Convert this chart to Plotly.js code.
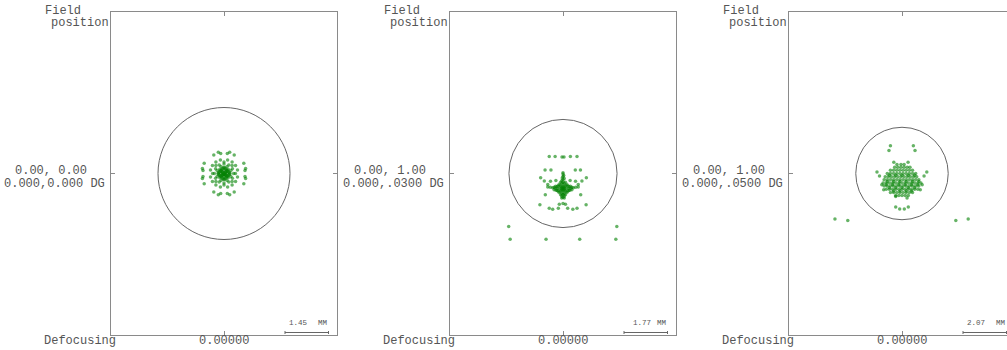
<!DOCTYPE html>
<html>
<head>
<meta charset="utf-8">
<script src="https://cdn.plot.ly/plotly-3.0.1.min.js"></script>
<style>html,body{margin:0;padding:0;background:#fff;}#chart{width:1007px;height:350px;}</style>
</head>
<body>
<div id="chart"></div>
<script>
// ---- data ----
const fieldLine1 = ["0.00, 0.00", "0.00, 1.00", "0.00, 1.00"];
const fieldLine2 = ["0.000,0.000 DG", "0.000,.0300 DG", "0.000,.0500 DG"];
const defocusLabels = ["0.00000", "0.00000", "0.00000"];
const scaleMM = [1.45, 1.77, 2.07];
const airyRadius = [2.2, 2.2, 2.2];

const spots1 = [
  [-0.34,0.62],[-0.19,0.71],[-0.11,0.67],[0.11,0.67],[0.19,0.71],[0.34,0.62],
  [-0.34,-0.62],[-0.19,-0.71],[-0.11,-0.67],[0.11,-0.67],[0.19,-0.71],[0.34,-0.62],
  [-0.66,0.34],[-0.72,0.17],[-0.70,0.10],[-0.70,-0.10],[-0.72,-0.17],[-0.66,-0.34],
  [0.66,0.34],[0.72,0.17],[0.70,0.10],[0.70,-0.10],[0.72,-0.17],[0.66,-0.34],
  [0.45,0.12],[0.385,0.27],[0.27,0.385],[0.12,0.45],
  [-0.45,0.12],[-0.385,0.27],[-0.27,0.385],[-0.12,0.45],
  [0.45,-0.12],[0.385,-0.27],[0.27,-0.385],[0.12,-0.45],
  [-0.45,-0.12],[-0.385,-0.27],[-0.27,-0.385],[-0.12,-0.45],
  [0.38,0],[0.27,0.27],[0,0.38],[-0.27,0.27],[-0.38,0],[-0.27,-0.27],[0,-0.38],[0.27,-0.27],
  [0.32,0],[0.28,0.16],[0.16,0.28],[0,0.32],[-0.16,0.28],[-0.28,0.16],
  [-0.32,0],[-0.28,-0.16],[-0.16,-0.28],[0,-0.32],[0.16,-0.28],[0.28,-0.16],
  [0.23,0.10],[0.10,0.23],[-0.10,0.23],[-0.23,0.10],[-0.23,-0.10],[-0.10,-0.23],[0.10,-0.23],[0.23,-0.10],
  [0.2,0],[0.14,0.14],[0,0.2],[-0.14,0.14],[-0.2,0],[-0.14,-0.14],[0,-0.2],[0.14,-0.14],
  [0.15,0.06],[0.06,0.15],[-0.06,0.15],[-0.15,0.06],[-0.15,-0.06],[-0.06,-0.15],[0.06,-0.15],[0.15,-0.06],
  [0.18,0.03],[0.03,0.18],[-0.18,0.03],[0.03,-0.18],[-0.03,0.18],[0.18,-0.03],[-0.18,-0.03],[-0.03,-0.18],
  [0.12,0.09],[0.09,0.12],[-0.12,0.09],[-0.09,0.12],[-0.12,-0.09],[-0.09,-0.12],[0.12,-0.09],[0.09,-0.12],
  [0.1,0],[0.07,0.07],[0,0.1],[-0.07,0.07],[-0.1,0],[-0.07,-0.07],[0,-0.1],[0.07,-0.07],
  [0.05,0.04],[-0.05,0.04],[0.05,-0.04],[-0.05,-0.04],
  [0.04,0.02],[-0.04,0.02],[0.02,-0.04],[-0.02,-0.04],[0,0]
];

const spots2 = [
  [-0.56,0.69],[-0.32,0.69],[-0.04,0.67],[0.04,0.67],[0.30,0.69],[0.57,0.69],
  [-0.73,0.14],[-0.49,0.14],[0.50,0.14],[0.71,0.14],[0,0.03],
  [-0.91,-0.17],[0.95,-0.17],[-0.76,-0.31],[0.77,-0.31],
  [-0.51,-0.32],[-0.29,-0.28],[0.29,-0.28],[0.51,-0.32],[-0.62,-0.45],[0.62,-0.45],
  [-0.72,-0.86],[0.72,-0.86],
  [-0.94,-1.27],[0.94,-1.27],
  [-0.56,-1.41],[-0.42,-1.45],[-0.19,-1.41],[0.19,-1.41],[0.40,-1.45],[0.57,-1.41],
  [-0.15,-1.25],[0,-1.22],[0.1,-1.25],
  [-2.21,-2.16],[2.19,-2.16],[-2.15,-2.68],[-0.69,-2.68],[0.68,-2.68],[2.15,-2.68],
  [0,-0.61],[0.08,-0.61],[-0.08,-0.61],[0,-0.53],[0,-0.69],[0.16,-0.61],[-0.16,-0.61],
  [0,-0.45],[0,-0.77],[0.08,-0.53],[-0.08,-0.53],[0.08,-0.69],[-0.08,-0.69],
  [0.24,-0.61],[-0.24,-0.61],[0.12,-0.49],[-0.12,-0.49],[0.12,-0.73],[-0.12,-0.73],
  [0.32,-0.60],[-0.32,-0.60],[0.42,-0.58],[-0.42,-0.58],[0.52,-0.56],[-0.52,-0.56],
  [0,-0.35],[0,-0.85],[0,-0.25],[0,-0.12],[0,-0.02],[0,-0.97],
  [0.20,-0.51],[-0.20,-0.51],[0.20,-0.71],[-0.20,-0.71],[0.30,-0.52],[-0.30,-0.52],
  [0.10,-0.36],[-0.10,-0.36],[0.10,-0.86],[-0.10,-0.86],[0.05,-1.0],[-0.05,-1.0],
  [0.04,-0.57],[-0.04,-0.65],[0.04,-0.65],[-0.04,-0.57],[0.05,-0.2],[-0.05,-0.3],
  [0.36,-0.66],[-0.36,-0.66],[0.36,-0.56],[-0.36,-0.56],[0.28,-0.68],[-0.28,-0.68],
  [0.16,-0.45],[-0.16,-0.45],[0.16,-0.77],[-0.16,-0.77],[0.24,-0.53],[-0.24,-0.53],
  [0.24,-0.69],[-0.24,-0.69],[0.05,-0.40],[-0.05,-0.40],[0.05,-0.82],[-0.05,-0.82],
  [0.05,-0.92],[-0.05,-0.92],[0.62,-0.55],[-0.62,-0.55],[0.03,-0.08],[-0.03,-0.18]
];

const spots3 = [
  [-0.55,1.32],[0.54,1.32],[-0.62,1.10],[0.62,1.10],
  [-1.19,0.07],[1.18,0.07],[-1.07,-0.12],[1.05,-0.12],
  [-0.96,-0.53],[0.96,-0.53],[-0.87,-0.77],[0.87,-0.77],
  [-0.30,-1.60],[-0.11,-1.69],[0.11,-1.69],[0.30,-1.60],
  [-3.19,-2.16],[-2.58,-2.24],[2.56,-2.24],[3.15,-2.16],
  [-0.39,0.53],[-0.24,0.43],[-0.05,0.43],[0.10,0.43],[0.29,0.53],
  [-0.35,0.30],[-0.2,0.30],[-0.05,0.30],[0.1,0.30],[0.25,0.30],[0.38,0.30],
  [-0.55,0.15],[-0.4,0.15],[-0.25,0.15],[-0.1,0.15],[0.05,0.15],[0.2,0.15],[0.35,0.15],[0.5,0.15],
  [-0.7,0],[-0.55,0],[-0.4,0],[-0.25,0],[-0.1,0],[0.05,0],[0.2,0],[0.35,0],[0.5,0],[0.65,0],
  [-0.8,-0.15],[-0.65,-0.15],[-0.5,-0.15],[-0.35,-0.15],[-0.2,-0.15],[-0.05,-0.15],[0.1,-0.15],[0.25,-0.15],[0.4,-0.15],[0.55,-0.15],[0.7,-0.15],
  [-0.85,-0.3],[-0.7,-0.3],[-0.55,-0.3],[-0.4,-0.3],[-0.25,-0.3],[-0.1,-0.3],[0.05,-0.3],[0.2,-0.3],[0.35,-0.3],[0.5,-0.3],[0.65,-0.3],[0.8,-0.3],
  [-0.9,-0.45],[-0.75,-0.45],[-0.6,-0.45],[-0.45,-0.45],[-0.3,-0.45],[-0.15,-0.45],[0,-0.45],[0.15,-0.45],[0.3,-0.45],[0.45,-0.45],[0.6,-0.45],[0.75,-0.45],[0.9,-0.45],
  [-0.85,-0.6],[-0.7,-0.6],[-0.55,-0.6],[-0.4,-0.6],[-0.25,-0.6],[-0.1,-0.6],[0.05,-0.6],[0.2,-0.6],[0.35,-0.6],[0.5,-0.6],[0.65,-0.6],[0.8,-0.6],
  [-0.75,-0.75],[-0.6,-0.75],[-0.45,-0.75],[-0.3,-0.75],[-0.15,-0.75],[0,-0.75],[0.15,-0.75],[0.3,-0.75],[0.45,-0.75],[0.6,-0.75],[0.75,-0.75],
  [-0.55,-0.9],[-0.4,-0.9],[-0.25,-0.9],[-0.1,-0.9],[0.05,-0.9],[0.2,-0.9],[0.35,-0.9],[0.5,-0.9],
  [-0.3,-1.05],[-0.15,-1.05],[0,-1.05],[0.15,-1.05],[0.3,-1.05],
  [-0.3,-1.10],[0.24,-1.16],
  [-0.6,-0.08],[-0.3,-0.08],[0,-0.08],[0.3,-0.08],[0.6,-0.08],
  [-0.7,-0.38],[-0.4,-0.38],[-0.1,-0.38],[0.2,-0.38],[0.5,-0.38],[0.8,-0.38],
  [-0.75,-0.53],[-0.45,-0.53],[-0.15,-0.53],[0.15,-0.53],[0.45,-0.53],[0.75,-0.53],
  [-0.6,-0.68],[-0.3,-0.68],[0,-0.68],[0.3,-0.68],[0.6,-0.68],
  [-0.4,-0.83],[-0.1,-0.83],[0.2,-0.83],[0.45,-0.83]
];
const allSpots = [spots1, spots2, spots3];

// ---- layout geometry (pixels) ----
const W = 1007, H = 350;
const panelLeft = [111, 450, 789];
const panelW = 226, topPx = 12, botPx = 335;
const barPx = 43.5;
const scaleLabelX = [288, 632, 966];
const mono = "Liberation Mono, DejaVu Sans Mono, monospace";
const txt = "#555";
const frameCol = "#8a8a8a";

const px2x = p => p / W;
const px2y = p => 1 - p / H;

const traces = [], shapes = [], annotations = [];
const layout = {
  width: W, height: H,
  margin: {l: 0, r: 0, t: 0, b: 0},
  paper_bgcolor: "#fff", plot_bgcolor: "#fff",
  showlegend: false,
  font: {family: mono, color: txt, size: 12}
};

for (let i = 0; i < 3; i++) {
  const sfx = i === 0 ? "" : String(i + 1);
  const ppm = barPx / scaleMM[i];
  const left = panelLeft[i];
  const right = Math.min(left + panelW, W);
  const cx = left + panelW / 2;
  const halfH = (botPx - topPx) / 2;
  const o = left - panelLeft[0];

  layout["xaxis" + sfx] = {
    domain: [px2x(left), px2x(right)],
    range: [(left - cx) / ppm, (right - cx) / ppm],
    anchor: "y" + sfx,
    showgrid: false, zeroline: false,
    showline: true, linecolor: frameCol, linewidth: 1,
    mirror: "ticks", ticks: "inside", ticklen: 4, tickcolor: frameCol,
    tickvals: [0], showticklabels: false,
    fixedrange: true
  };
  layout["yaxis" + sfx] = {
    domain: [px2y(botPx), px2y(topPx)],
    range: [-halfH / ppm, halfH / ppm],
    anchor: "x" + sfx,
    showgrid: false, zeroline: false,
    showline: true, linecolor: frameCol, linewidth: 1,
    mirror: i === 2 ? false : "ticks", ticks: "inside", ticklen: 4, tickcolor: frameCol,
    tickvals: [0], showticklabels: false,
    fixedrange: true
  };

  const pts = allSpots[i];
  traces.push({
    type: "scatter", mode: "markers",
    x: pts.map(p => p[0]), y: pts.map(p => p[1]),
    xaxis: "x" + sfx, yaxis: "y" + sfx,
    marker: {size: 3.5, color: "rgba(0,128,0,0.6)", line: {width: 0}},
    hoverinfo: "skip"
  });

  const r = airyRadius[i];
  shapes.push({type: "circle", xref: "x" + sfx, yref: "y" + sfx,
    x0: -r, x1: r, y0: -r, y1: r, line: {color: "#666", width: 1}});

  const b0 = (285 + o - cx) / ppm, b1 = b0 + scaleMM[i];
  const yb = px2y(332.5);
  shapes.push({type: "line", xref: "x" + sfx, yref: "paper", x0: b0, x1: b1, y0: yb, y1: yb,
    line: {color: "#666", width: 1}});
  [b0, b1].forEach(bx => shapes.push({type: "line", xref: "x" + sfx, yref: "paper",
    x0: bx, x1: bx, y0: px2y(331), y1: px2y(334), line: {color: "#666", width: 1}}));

  const ann = (text, x, y, anchor, size) => annotations.push({
    text, x: px2x(x), y: px2y(y), xref: "paper", yref: "paper",
    xanchor: anchor, yanchor: "middle", showarrow: false, borderpad: 0,
    font: {family: mono, size: size || 12, color: txt}
  });
  ann("Field", 44 + o, 11.5, "left");
  ann("position", 50 + o, 23, "left");
  ann(fieldLine1[i], 14 + o, 171, "left");
  ann(fieldLine2[i], 3 + o, 184, "left");
  ann("Defocusing", 43 + o, 340.5, "left");
  ann(defocusLabels[i], cx, 341, "center");
  ann(scaleMM[i].toFixed(2), scaleLabelX[i], 323, "left", 7.5);
  ann("MM", Math.min(329 + o, W), 323, "right", 7.5);
}

layout.shapes = shapes;
layout.annotations = annotations;
Plotly.newPlot("chart", traces, layout, {displayModeBar: false, staticPlot: true});
</script>
</body>
</html>
